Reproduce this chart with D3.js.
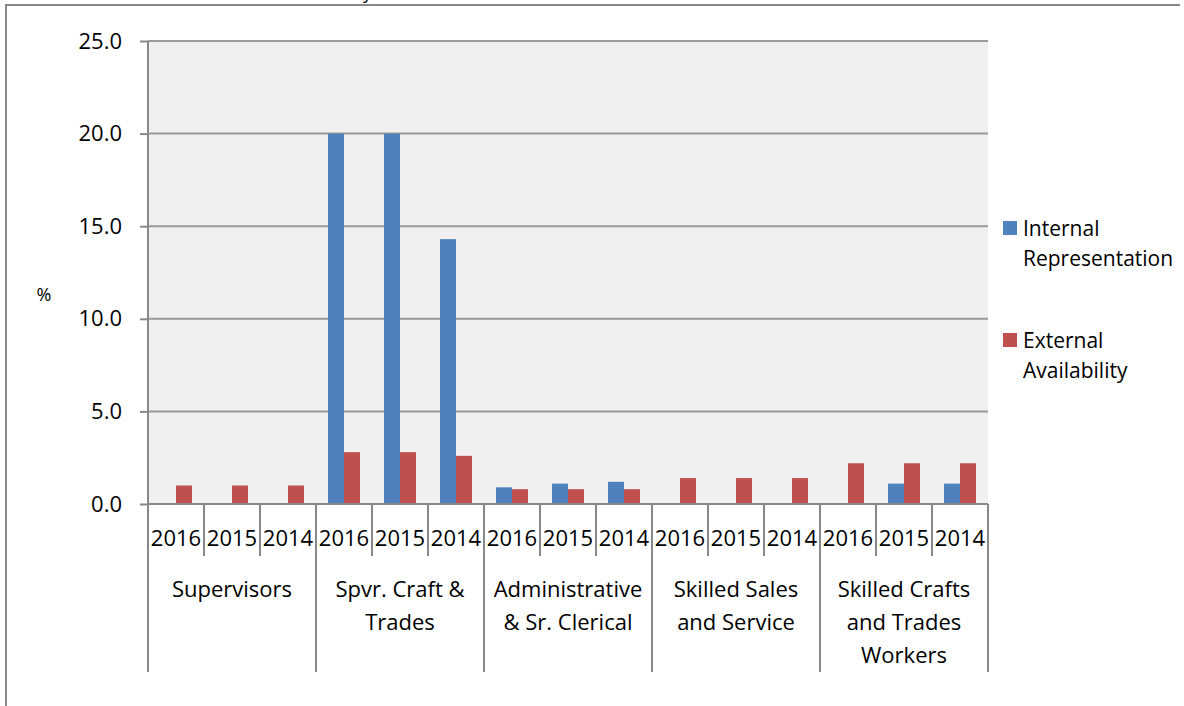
<!DOCTYPE html>
<html>
<head>
<meta charset="utf-8">
<script src="https://cdn.jsdelivr.net/npm/d3@7"></script>
<style>
  body { margin: 0; background: #fff; }
  text { font-family: "Open Sans", "Liberation Sans", sans-serif; fill: #000; }
</style>
</head>
<body>
<svg id="chart" width="1184" height="706"></svg>
<script>
// data
var groups = ['Supervisors', 'Spvr. Craft & Trades', 'Administrative & Sr. Clerical', 'Skilled Sales and Service', 'Skilled Crafts and Trades Workers'];
var groupLines = [['Supervisors'], ['Spvr. Craft &', 'Trades'], ['Administrative', '& Sr. Clerical'], ['Skilled Sales', 'and Service'], ['Skilled Crafts', 'and Trades', 'Workers']];
var years = ['2016', '2015', '2014'];
var seriesNames = ['Internal Representation', 'External Availability'];
var internalRep = [0, 0, 0, 20.0, 20.0, 14.3, 0.9, 1.1, 1.2, 0, 0, 0, 0, 1.1, 1.1];
var externalAvail = [1.0, 1.0, 1.0, 2.8, 2.8, 2.6, 0.8, 0.8, 0.8, 1.4, 1.4, 1.4, 2.2, 2.2, 2.2];
var yTicks = [0, 5, 10, 15, 20, 25];
var colors = ['#4f81bd', '#c0504d'];

var svg = d3.select('#chart');
var plotLeft = 148, plotRight = 988, plotTop = 41, plotBottom = 504;

//rows, one per bar slot
var rows = [];
groups.forEach(function(g, gi) {
  years.forEach(function(y, yi) {
    var i = gi * 3 + yi;
    rows.push({key: g + '|' + y, group: g, year: y, values: [internalRep[i], externalAvail[i]]});
  });
});

var x = d3.scaleBand().domain(rows.map(function(d) { return d.key; })).range([plotLeft, plotRight]);
var inner = d3.scaleBand().domain(seriesNames).range([0, x.bandwidth()]).paddingInner(0).paddingOuter(0.75);
var y = d3.scaleLinear().domain([0, 25]).range([plotBottom, plotTop]);

//outer frame fragments (the chart is cropped from a bigger page)
svg.append('line').attr('x1', 5).attr('x2', 1180).attr('y1', 5).attr('y2', 5)
  .attr('stroke', '#888').attr('stroke-width', 2);
svg.append('line').attr('x1', 6).attr('x2', 6).attr('y1', 5).attr('y2', 706)
  .attr('stroke', '#888').attr('stroke-width', 2);
svg.append('text').attr('x', 372).attr('y', -1).attr('text-anchor', 'end')
  .attr('font-size', 18).text('y');

//plot background
svg.append('rect').attr('x', plotLeft).attr('y', plotTop).attr('width', plotRight - plotLeft).attr('height', plotBottom - plotTop)
  .attr('fill', '#f0f0f0');

//gridlines
svg.append('g').selectAll('line').data(yTicks.slice(1)).join('line')
  .attr('x1', plotLeft).attr('x2', plotRight)
  .attr('y1', function(d) { return y(d); }).attr('y2', function(d) { return y(d); })
  .attr('stroke', '#9a9a9a').attr('stroke-width', 2);

//bars
svg.append('g').selectAll('g').data(rows).join('g')
  .attr('transform', function(d) { return 'translate(' + x(d.key) + ',0)'; })
  .selectAll('rect')
  .data(function(d) { return d.values.map(function(v, i) { return {name: seriesNames[i], value: v, i: i}; }); })
  .join('rect')
  .attr('x', function(d) { return inner(d.name); })
  .attr('width', inner.bandwidth())
  .attr('y', function(d) { return y(d.value); })
  .attr('height', function(d) { return plotBottom - y(d.value); })
  .attr('fill', function(d) { return colors[d.i]; });

//y axis
var yAxis = svg.append('g').attr('transform', 'translate(' + plotLeft + ',0)')
  .call(d3.axisLeft(y).tickValues(yTicks).tickFormat(d3.format('.1f')).tickSize(8).tickPadding(18));
yAxis.select('.domain').attr('stroke', '#888').attr('stroke-width', 2).attr('d', 'M0,' + plotTop + 'V' + plotBottom);
yAxis.selectAll('.tick line').attr('stroke', '#888').attr('stroke-width', 2);
yAxis.selectAll('.tick text').attr('font-size', 22).attr('fill', '#000')
  .style('font-family', '"Open Sans", sans-serif');

svg.append('text').attr('x', 44).attr('y', 301).attr('text-anchor', 'middle')
  .attr('font-size', 18).text('%');

//x axis, year level
svg.append('line').attr('x1', plotLeft).attr('x2', plotRight).attr('y1', plotBottom).attr('y2', plotBottom)
  .attr('stroke', '#888').attr('stroke-width', 2);
var xTickPos = rows.map(function(d) { return x(d.key); }).concat([plotRight]);
svg.append('g').selectAll('line').data(xTickPos).join('line')
  .attr('x1', function(d) { return d; }).attr('x2', function(d) { return d; })
  .attr('y1', plotBottom).attr('y2', function(d, i) { return i % 3 === 0 ? 672 : 556; })
  .attr('stroke', '#888').attr('stroke-width', 2);

svg.append('g').selectAll('text').data(rows).join('text')
  .attr('x', function(d) { return x(d.key) + x.bandwidth() / 2; })
  .attr('y', 546)
  .attr('text-anchor', 'middle')
  .attr('font-size', 22)
  .text(function(d) { return d.year; });

//x axis, group level
var groupWidth = x.bandwidth() * 3;
svg.append('g').selectAll('text').data(groupLines).join('text')
  .attr('x', function(d, i) { return plotLeft + groupWidth * i + groupWidth / 2; })
  .attr('y', 597)
  .attr('text-anchor', 'middle')
  .attr('font-size', 22)
  .selectAll('tspan').data(function(d) { return d; }).join('tspan')
  .attr('x', function() { return d3.select(this.parentNode).attr('x'); })
  .attr('dy', function(d, i) { return i === 0 ? 0 : 33; })
  .text(function(d) { return d; });

//legend
var legendLines = [['Internal', 'Representation'], ['External', 'Availability']];
var legend = svg.append('g').selectAll('g').data(legendLines).join('g')
  .attr('transform', function(d, i) { return 'translate(1003,' + (221 + i * 112) + ')'; });
legend.append('rect').attr('width', 14).attr('height', 14)
  .attr('fill', function(d, i) { return colors[i]; });
legend.append('text').attr('x', 20).attr('y', 15).attr('font-size', 21)
  .selectAll('tspan').data(function(d) { return d; }).join('tspan')
  .attr('x', 20).attr('dy', function(d, i) { return i === 0 ? 0 : 30; })
  .text(function(d) { return d; });
</script>
</body>
</html>
